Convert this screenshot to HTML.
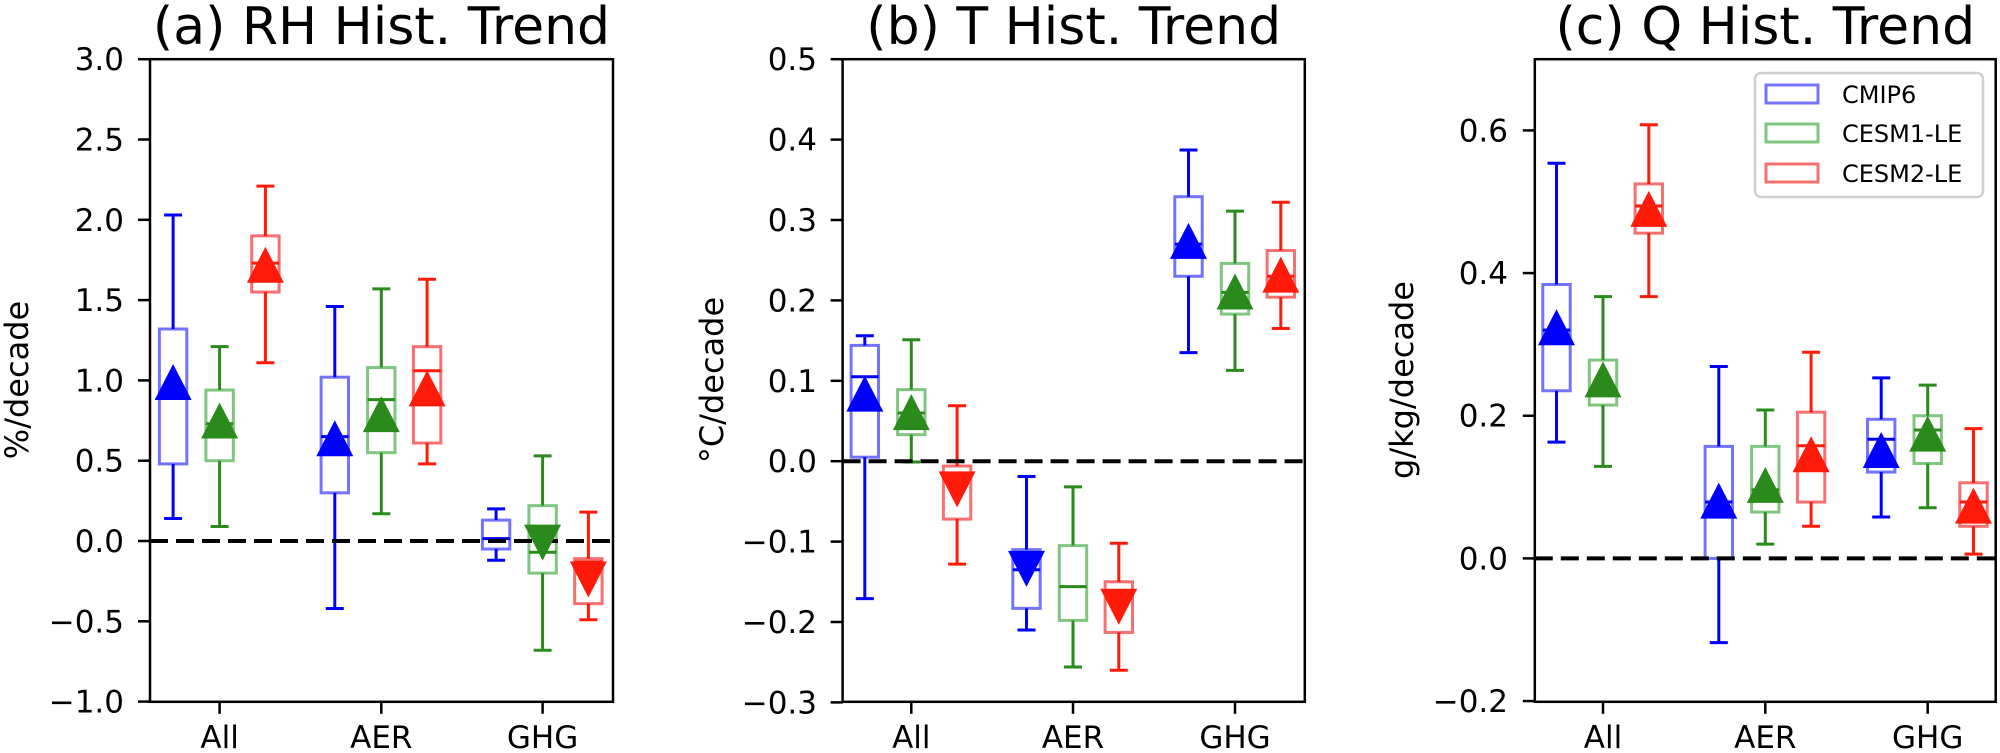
<!DOCTYPE html>
<html><head><meta charset="utf-8"><style>
html,body{margin:0;padding:0;background:#fff;}
svg{display:block;}
text{font-family:"DejaVu Sans","Liberation Sans",sans-serif;fill:#000;}
.t{font-size:31px;}
.yl{font-size:32px;}
.ti{font-size:52px;}
.lg{font-size:24px;}
</style></head><body>
<svg id="s" width="2000" height="753" viewBox="0 0 2000 753" xmlns="http://www.w3.org/2000/svg">
<g id="plots"></g>
<!-- Titles -->
<text class="ti" x="381.5" y="44" text-anchor="middle">(a) RH Hist. Trend</text>
<text class="ti" x="1073.7" y="44" text-anchor="middle">(b) T Hist. Trend</text>
<text class="ti" x="1765.3" y="44" text-anchor="middle">(c) Q Hist. Trend</text>
<!-- Y labels -->
<text class="yl" transform="translate(28,380) rotate(-90)" text-anchor="middle">%/decade</text>
<text class="yl" transform="translate(723,380) rotate(-90)" text-anchor="middle">°C/decade</text>
<text class="yl" transform="translate(1413,380) rotate(-90)" text-anchor="middle">g/kg/decade</text>
<!-- Panel a y ticks -->
<g class="t" text-anchor="end">
<text x="124" y="70.2">3.0</text><text x="124" y="150.5">2.5</text><text x="124" y="230.8">2.0</text>
<text x="124" y="311.1">1.5</text><text x="124" y="391.4">1.0</text><text x="124" y="471.7">0.5</text>
<text x="124" y="552">0.0</text><text x="124" y="632.3">−0.5</text><text x="124" y="712.6">−1.0</text>
</g>
<!-- Panel b y ticks -->
<g class="t" text-anchor="end">
<text x="817" y="70.2">0.5</text><text x="817" y="150.6">0.4</text><text x="817" y="231">0.3</text>
<text x="817" y="311.4">0.2</text><text x="817" y="391.8">0.1</text><text x="817" y="472.2">0.0</text>
<text x="817" y="552.6">−0.1</text><text x="817" y="633">−0.2</text><text x="817" y="713.4">−0.3</text>
</g>
<!-- Panel c y ticks -->
<g class="t" text-anchor="end">
<text x="1508" y="141.4">0.6</text><text x="1508" y="284.1">0.4</text><text x="1508" y="426.7">0.2</text>
<text x="1508" y="569.4">0.0</text><text x="1508" y="712.1">−0.2</text>
</g>
<!-- X tick labels -->
<g class="t" text-anchor="middle">
<text x="219.6" y="748">All</text><text x="381.3" y="748">AER</text><text x="542.6" y="748">GHG</text>
<text x="911.3" y="748">All</text><text x="1073" y="748">AER</text><text x="1235" y="748">GHG</text>
<text x="1603" y="748">All</text><text x="1765.3" y="748">AER</text><text x="1927.7" y="748">GHG</text>
</g>
<!-- Legend -->
<rect x="1755" y="73" width="228" height="124" rx="6" fill="#fff" fill-opacity="0.8" stroke="#d0d0d0" stroke-width="2.5"/>
<rect x="1766" y="85" width="52" height="18" fill="none" stroke="#0000ff" stroke-opacity="0.55" stroke-width="3"/>
<rect x="1766" y="124" width="52" height="18" fill="none" stroke="#2ca02c" stroke-opacity="0.6" stroke-width="3"/>
<rect x="1766" y="164" width="52" height="18" fill="none" stroke="#f01010" stroke-opacity="0.6" stroke-width="3"/>
<text class="lg" x="1842" y="103">CMIP6</text>
<text class="lg" x="1842" y="142">CESM1-LE</text>
<text class="lg" x="1842" y="182">CESM2-LE</text>
</svg>
<script>
(function(){
var NS="http://www.w3.org/2000/svg";
var g=document.getElementById('plots');
function el(n,a){var e=document.createElementNS(NS,n);for(var k in a)e.setAttribute(k,a[k]);g.appendChild(e);return e;}
var panels=[
 {l:150,r:613,z:541,s:160.6,ticks:[219.6,381.3,542.6],yt:[3,2.5,2,1.5,1,.5,0,-.5,-1],
  d:[[[2.03,0.14,1.32,0.48,0.9,0.99,1],[1.21,0.09,0.94,0.50,0.73,0.75,1],[2.21,1.11,1.90,1.55,1.73,1.72,1]],
     [[1.46,-0.42,1.02,0.30,0.65,0.64,1],[1.57,0.17,1.08,0.55,0.88,0.79,1],[1.63,0.48,1.21,0.61,1.06,0.95,1]],
     [[0.20,-0.12,0.13,-0.05,0.015,null,1],[0.53,-0.68,0.22,-0.20,-0.07,-0.01,-1],[0.18,-0.49,-0.11,-0.39,-0.13,-0.24,-1]]]},
 {l:842.6,r:1304.8,z:461.2,s:804,ticks:[911.3,1073,1235],yt:[.5,.4,.3,.2,.1,0,-.1,-.2,-.3],
  d:[[[0.156,-0.171,0.144,0.005,0.105,0.084,1],[0.151,-0.001,0.089,0.033,0.06,0.061,1],[0.069,-0.128,-0.006,-0.072,-0.02,-0.035,-1]],
     [[-0.019,-0.21,-0.11,-0.183,-0.135,-0.134,-1],[-0.032,-0.256,-0.105,-0.198,-0.156,null,1],[-0.102,-0.26,-0.15,-0.213,-0.17,-0.181,-1]],
     [[0.387,0.135,0.329,0.23,0.27,0.274,1],[0.311,0.113,0.246,0.183,0.21,0.211,1],[0.322,0.165,0.262,0.204,0.23,0.232,1]]]},
 {l:1534.8,r:1995.7,z:558.4,s:713.3,ticks:[1603,1765.3,1927.7],yt:[.6,.4,.2,0,-.2],
  d:[[[0.554,0.163,0.384,0.235,0.32,0.324,1],[0.367,0.129,0.278,0.215,0.229,0.251,1],[0.608,0.367,0.525,0.456,0.494,0.49,1]],
     [[0.269,-0.118,0.157,0.0,0.079,0.081,1],[0.208,0.02,0.157,0.065,0.096,0.103,1],[0.289,0.045,0.205,0.079,0.158,0.146,1]],
     [[0.253,0.058,0.195,0.121,0.167,0.152,1],[0.243,0.071,0.2,0.133,0.18,0.175,1],[0.182,0.006,0.106,0.045,0.079,0.074,1]]]}
];
var top=59.2,bot=701.8;
var wc=['#0000ff','#2a8a1c','#ff1a0a'], bc=['rgba(0,0,255,0.55)','rgba(44,160,44,0.6)','rgba(240,16,16,0.6)'];
var offs=[-46.5,0,45.8];
panels.forEach(function(p){
 p.d.forEach(function(grp,gi){
  grp.forEach(function(b,si){
   var x=p.ticks[gi]+offs[si]; function Y(v){return p.z-v*p.s;}
   var c=wc[si];
   el('line',{x1:x,x2:x,y1:Y(b[0]),y2:Y(b[2]),stroke:c,'stroke-width':3});
   el('line',{x1:x,x2:x,y1:Y(b[3]),y2:Y(b[1]),stroke:c,'stroke-width':3});
   el('line',{x1:x-9,x2:x+9,y1:Y(b[0]),y2:Y(b[0]),stroke:c,'stroke-width':3});
   el('line',{x1:x-9,x2:x+9,y1:Y(b[1]),y2:Y(b[1]),stroke:c,'stroke-width':3});
   el('rect',{x:x-13.7,y:Y(b[2]),width:27.4,height:Y(b[3])-Y(b[2]),fill:'none',stroke:bc[si],'stroke-width':3});
   el('line',{x1:x-13.7,x2:x+13.7,y1:Y(b[4]),y2:Y(b[4]),stroke:c,'stroke-width':3});
  });
 });
 el('line',{x1:p.l,x2:p.r,y1:p.z,y2:p.z,stroke:'#000','stroke-width':4,'stroke-dasharray':'18 8'});
 p.d.forEach(function(grp,gi){
  grp.forEach(function(b,si){
   if(b[5]===null)return;
   var x=p.ticks[gi]+offs[si], y=p.z-b[5]*p.s, h=18*b[6];
   el('polygon',{points:(x)+','+(y-h)+' '+(x-18.5)+','+(y+h)+' '+(x+18.5)+','+(y+h),fill:wc[si]});
  });
 });
 el('rect',{x:p.l,y:top,width:p.r-p.l,height:bot-top,fill:'none',stroke:'#000','stroke-width':2.5});
 p.yt.forEach(function(v){var y=p.z-v*p.s;el('line',{x1:p.l-12,x2:p.l,y1:y,y2:y,stroke:'#000','stroke-width':2.5});});
 p.ticks.forEach(function(x){el('line',{x1:x,x2:x,y1:bot,y2:bot+12,stroke:'#000','stroke-width':2.5});});
});
})();
</script>
</body></html>
